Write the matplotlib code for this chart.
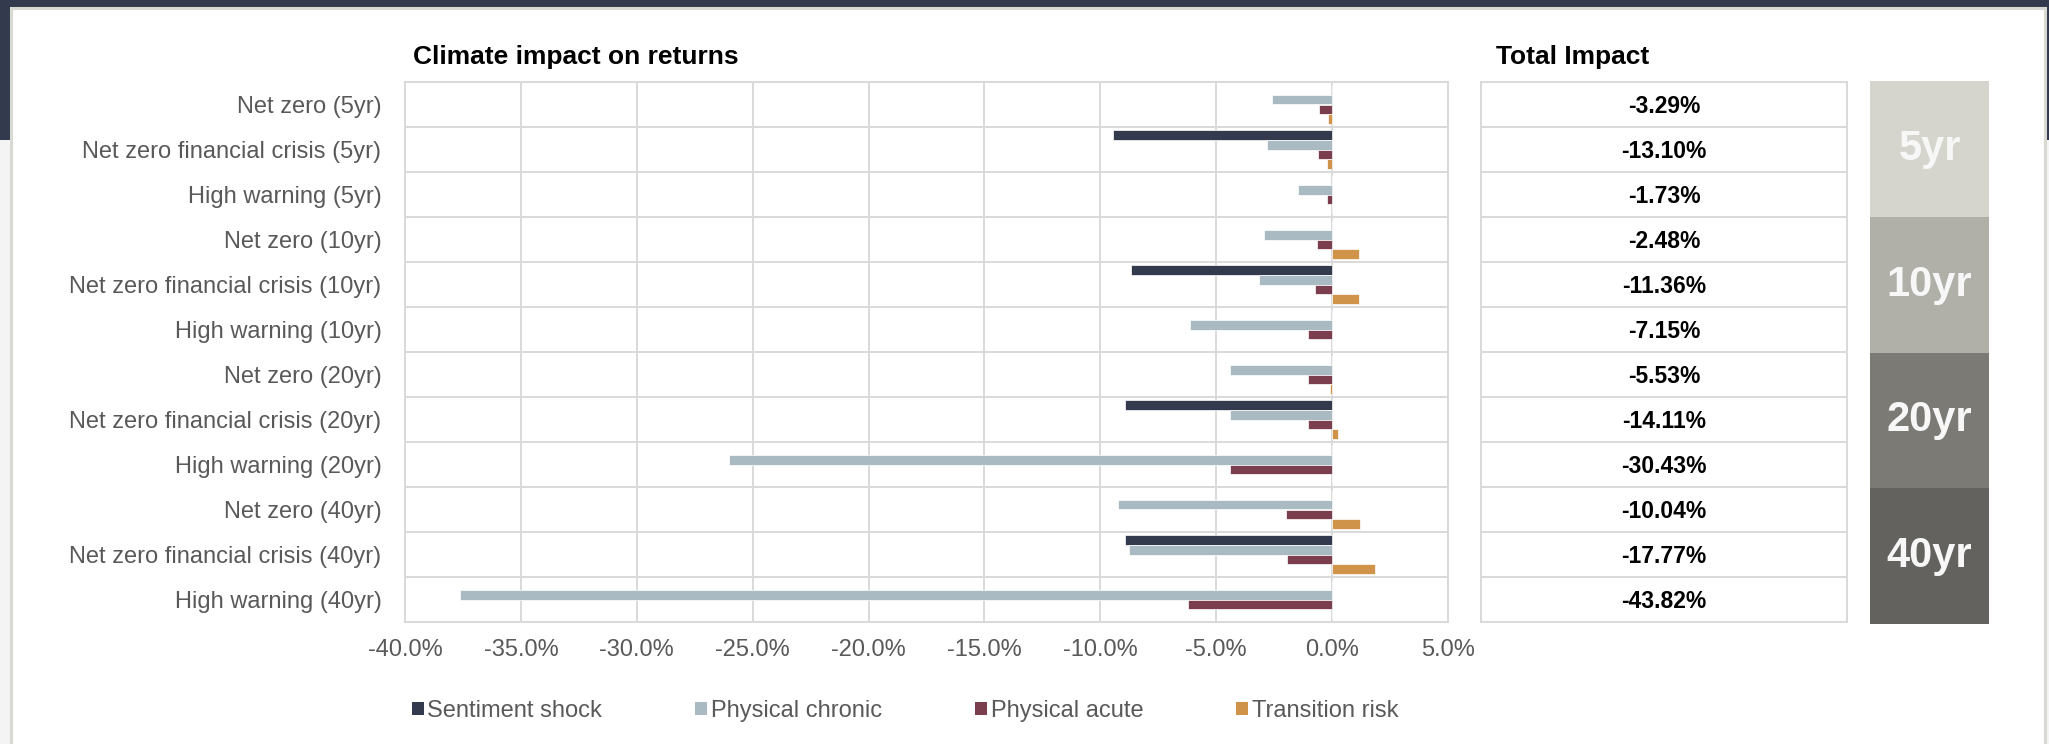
import numpy as np
import matplotlib
matplotlib.use("Agg")
import matplotlib.pyplot as plt
from matplotlib.patches import Rectangle, Patch

plt.rcParams['font.family'] = ['Liberation Sans', 'DejaVu Sans']

# dados (em %)
scenarios = ["Net zero (5yr)", "Net zero financial crisis (5yr)", "High warning (5yr)",
             "Net zero (10yr)", "Net zero financial crisis (10yr)", "High warning (10yr)",
             "Net zero (20yr)", "Net zero financial crisis (20yr)", "High warning (20yr)",
             "Net zero (40yr)", "Net zero financial crisis (40yr)", "High warning (40yr)"]
sentiment = [0, -9.44, 0, 0, -8.66, 0, 0, -8.92, 0, 0, -8.92, 0]
chronic = [-2.59, -2.83, -1.49, -2.95, -3.15, -6.13, -4.40, -4.42, -26.02, -9.25, -8.78, -37.61]
acute = [-0.55, -0.60, -0.24, -0.67, -0.73, -1.02, -1.04, -1.04, -4.41, -2.01, -1.94, -6.21]
transition = [-0.16, -0.22, 0, 1.14, 1.18, 0, -0.09, 0.27, 0, 1.22, 1.87, 0]
total_impact = ["-3.29%", "-13.10%", "-1.73%", "-2.48%", "-11.36%", "-7.15%",
                "-5.53%", "-14.11%", "-30.43%", "-10.04%", "-17.77%", "-43.82%"]
horizons = ["5yr", "10yr", "20yr", "40yr"]
horizon_colors = ["#d5d5ce", "#b0b0a9", "#7b7a75", "#63625e"]

series = [("Sentiment shock", sentiment, "#343a4d"),
          ("Physical chronic", chronic, "#a9bac2"),
          ("Physical acute", acute, "#7a3e4e"),
          ("Transition risk", transition, "#d0934a")]

W, H = 2049, 744
fig = plt.figure(figsize=(W / 100, H / 100), dpi=100)
fig.patch.set_facecolor("#f4f4f4")

# fundo: faixa escura no topo e cartão branco
fig.add_artist(Rectangle((0, 1 - 140 / H), 1, 140 / H, transform=fig.transFigure,
                         facecolor="#333a4d", edgecolor="none", zorder=-3))
fig.add_artist(Rectangle((11 / W, -0.05), (2045 - 11) / W, 1.05 - 8 / H, transform=fig.transFigure,
                         facecolor="white", edgecolor="#d9d9d4", linewidth=2.2, zorder=-2))

def fx(px):
    return px / W

def fy(px):
    return 1 - px / H

top, bottom = 82, 622
grid_c = "#d9d9d9"
txt_c = "#595959"

# gráfico principal
ax = fig.add_axes([fx(405), fy(bottom), fx(1448 - 405), (bottom - top) / H])
ax.set_facecolor("none")
y = np.arange(len(scenarios))
h = 0.222
offsets = [-1.5 * h, -0.5 * h, 0.5 * h, 1.5 * h]
for (name, vals, col), off in zip(series, offsets):
    ax.barh(y + off, vals, height=h, color=col, edgecolor="white", linewidth=0.5, zorder=3)

ax.set_xlim(-40, 5)
ax.set_ylim(len(scenarios) - 0.5, -0.5)
ax.set_xticks(np.arange(-40, 6, 5))
ax.set_xticklabels([f"{v:.1f}%" for v in np.arange(-40, 6, 5)])
ax.set_yticks(y)
ax.set_yticklabels(scenarios)
ax.set_yticks(np.arange(-0.5, len(scenarios)), minor=True)
ax.grid(axis="x", color=grid_c, linewidth=1.4, zorder=0)
ax.grid(axis="y", which="minor", color=grid_c, linewidth=1.4, zorder=0)
ax.tick_params(axis="both", which="both", length=0, labelsize=17, colors=txt_c)
ax.tick_params(axis="x", pad=12)
ax.tick_params(axis="y", pad=17)
for s in ax.spines.values():
    s.set_color(grid_c)
    s.set_linewidth(1.4)

fig.text(fx(413), fy(57), "Climate impact on returns", fontsize=19, fontweight="bold",
         ha="left", va="center", color="black")
fig.text(fx(1496), fy(57), "Total Impact", fontsize=19, fontweight="bold",
         ha="left", va="center", color="black")

# tabela de impacto total
tx = fig.add_axes([fx(1481), fy(bottom), fx(1847 - 1481), (bottom - top) / H])
tx.set_xlim(0, 1)
tx.set_ylim(len(scenarios) - 0.5, -0.5)
tx.hlines(np.arange(0.5, len(scenarios) - 1), 0, 1, color=grid_c, linewidth=1.4)
for i, v in enumerate(total_impact):
    tx.text(0.5, i + 0.04, v, ha="center", va="center", fontsize=16.5, fontweight="bold", color="black")
tx.set_xticks([])
tx.set_yticks([])
for s in tx.spines.values():
    s.set_color(grid_c)
    s.set_linewidth(1.4)

# blocos de horizonte
yx = fig.add_axes([fx(1870), fy(624), fx(1989 - 1870), (624 - 81) / H])
yx.set_xlim(0, 1)
yx.set_ylim(len(scenarios) - 0.5, -0.5)
centers = np.arange(1, len(scenarios), 3)
yx.barh(centers, 1, height=3, left=0, color=horizon_colors, edgecolor="none")
for c, lab in zip(centers, horizons):
    yx.text(0.5, c, lab, ha="center", va="center", fontsize=30, fontweight="bold", color="#f7f7f7")
yx.axis("off")

# legenda
handles = [Patch(facecolor=col, edgecolor="none", label=name) for name, _, col in series]
fig.legend(handles=handles, loc="center left", bbox_to_anchor=(fx(412), fy(711)), ncol=4,
           frameon=False, fontsize=17, labelcolor=txt_c, handlelength=0.5, handleheight=0.5,
           handletextpad=0.15, columnspacing=3.95, borderpad=0, borderaxespad=0)

fig.savefig("out.png", dpi=100, facecolor=fig.get_facecolor())
